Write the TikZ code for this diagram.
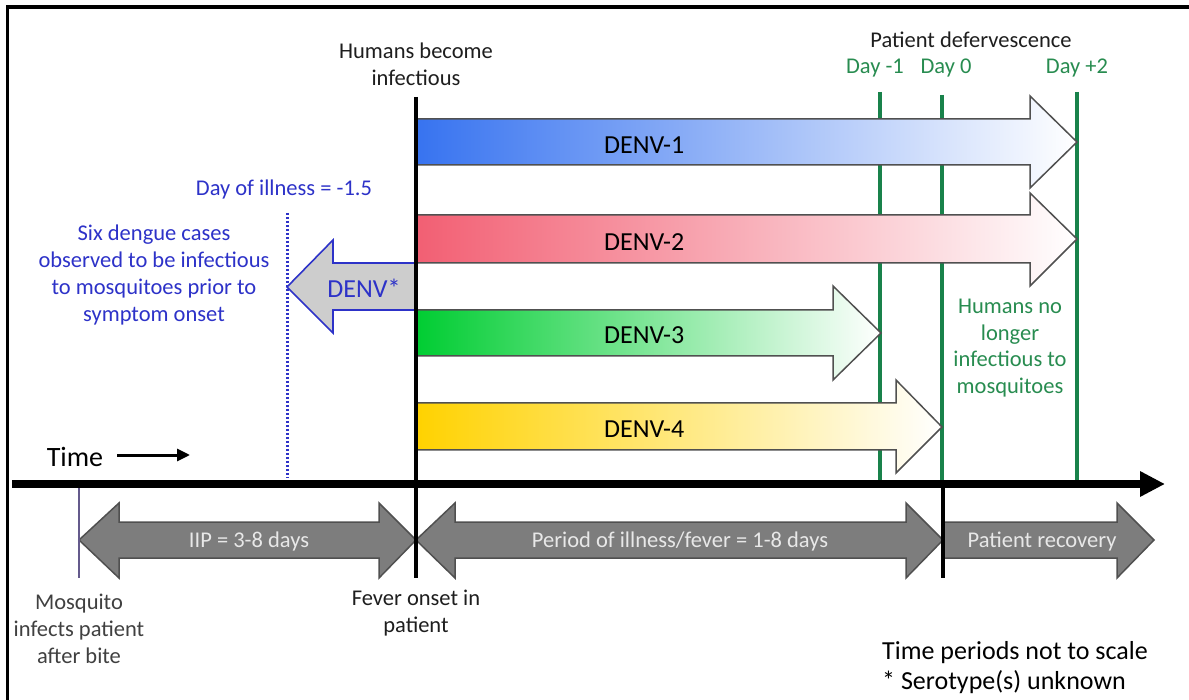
\documentclass[tikz,border=0pt]{standalone}
\usepackage{fontspec}
\setmainfont{Carlito}
\usetikzlibrary{arrows.meta}
\definecolor{d1col}{RGB}{55,115,240}
\definecolor{d2col}{RGB}{242,95,115}
\definecolor{d3col}{RGB}{0,205,50}
\definecolor{d4col}{RGB}{255,210,0}
\definecolor{lgreen}{RGB}{25,130,75}
\definecolor{tgreen}{RGB}{40,140,80}
\definecolor{tblue}{RGB}{45,50,200}
\definecolor{arrgray}{RGB}{125,125,125}
\definecolor{arredge}{RGB}{80,80,80}
\definecolor{starfill}{RGB}{205,205,205}
\definecolor{mosq}{RGB}{100,90,140}
\definecolor{ltext}{RGB}{232,232,232}
\definecolor{dtext}{RGB}{30,30,30}
\begin{document}
\begin{tikzpicture}[x=1pt,y=-1pt,
  txt/.style={font=\fontsize{22.5}{27}\selectfont, inner sep=0pt, text=dtext, align=center},
  denvlbl/.style={font=\fontsize{26}{30}\selectfont, inner sep=0pt, text=black, anchor=west},
  graylbl/.style={font=\fontsize{22.5}{27}\selectfont, inner sep=0pt, text=ltext},
  denvarrow/.style={draw=arredge, line width=1.5pt, right color=white},
  grayarrow/.style={fill=arrgray, draw=arredge, line width=1.5pt},
  gline/.style={draw=lgreen, line width=3.2pt},
  bline/.style={draw=black, line width=3.2pt}]
\useasboundingbox (0,0) rectangle (1189,700);
% frame
\draw[line width=3.2pt] (7.5,700) -- (7.5,7) -- (1189,7);

% green day lines
\coordinate (dm1top) at (880,92);  \coordinate (dm1bot) at (880,482);
\coordinate (d0top) at (942,95);   \coordinate (d0bot) at (942,482);
\coordinate (dp2top) at (1077,92); \coordinate (dp2bot) at (1077,480);
\draw[gline] (dm1top) -- (dm1bot);
\draw[gline] (d0top) -- (d0bot);
\draw[gline] (dp2top) -- (dp2bot);

% blue dotted line
\coordinate (dotTop) at (287,213); \coordinate (dotBot) at (287,478);
\draw[tblue, line width=3pt, dash pattern=on 2pt off 2pt] (dotTop) -- (dotBot);

% DENV arrows
\shadedraw[denvarrow, left color=d1col] (416,119) -- (1030,119) -- (1030,96) -- (1077,142) -- (1030,188) -- (1030,165) -- (416,165) -- cycle;
\shadedraw[denvarrow, left color=d2col] (416,215) -- (1030,215) -- (1030,193) -- (1077,239) -- (1030,286) -- (1030,263) -- (416,263) -- cycle;
\shadedraw[denvarrow, left color=d3col] (416,310) -- (833,310) -- (833,286) -- (881,333) -- (833,380) -- (833,356) -- (416,356) -- cycle;
\shadedraw[denvarrow, left color=d4col] (416,403) -- (896,403) -- (896,380) -- (942,427) -- (896,473) -- (896,450) -- (416,450) -- cycle;
\node[denvlbl] (denv1) at (604,145) {DENV-1};
\node[denvlbl] (denv2) at (604,242) {DENV-2};
\node[denvlbl] (denv3) at (604,335) {DENV-3};
\node[denvlbl] (denv4) at (604,429) {DENV-4};

% DENV* arrow
\filldraw[fill=starfill, draw=tblue, line width=1.6pt] (416,263) -- (333,263) -- (333,240) -- (287,287) -- (333,333) -- (333,310) -- (416,310) -- cycle;
\node[font=\fontsize{26}{30}\selectfont, inner sep=0pt, text=tblue] (denvstar) at (364,288) {DENV*};

% gray period arrows
\filldraw[grayarrow] (79,540) -- (119,503) -- (119,522) -- (379,522) -- (379,503) -- (416,540) -- (379,578) -- (379,558) -- (119,558) -- (119,578) -- cycle;
\filldraw[grayarrow] (416,540) -- (455,503) -- (455,522) -- (906,522) -- (906,503) -- (943,540) -- (906,578) -- (906,558) -- (455,558) -- (455,578) -- cycle;
\filldraw[grayarrow] (944,522) -- (1117,522) -- (1117,503) -- (1154,540) -- (1117,578) -- (1117,558) -- (944,558) -- cycle;
\node[graylbl] (iip) at (249,542) {IIP = 3-8 days};
\node[graylbl] (period) at (680,542) {Period of illness/fever = 1-8 days};
\node[graylbl] (recov) at (1042,542) {Patient recovery};

% vertical black / purple lines
\coordinate (onsetTop) at (416,97); \coordinate (onsetBot) at (416,578);
\draw[bline] (onsetTop) -- (onsetBot);
\coordinate (defTop) at (943,484); \coordinate (defBot) at (943,578);
\draw[bline] (defTop) -- (defBot);
\coordinate (mosTop) at (79,488); \coordinate (mosBot) at (79,578);
\draw[mosq, line width=2pt] (mosTop) -- (mosBot);

% timeline
\coordinate (tlStart) at (12,484); \coordinate (tlEnd) at (1165,484);
\draw[line width=7.5pt, -{Triangle[length=25pt,width=24pt]}] (tlStart) -- (tlEnd);

% Time label
\node[font=\fontsize{28}{32}\selectfont, inner sep=0pt, text=black] (timelbl) at (75,457) {Time};
\coordinate (timeEnd) at (190,455);
\draw[line width=3pt, -{Triangle[length=13pt,width=12pt]}] (timelbl.east) ++(14,-2) -- (timeEnd);

% top texts
\node[txt] (humans) at (416,64) {Humans become\\infectious};
\node[txt] (deferv) at (971,40) {Patient defervescence};
\node[txt, text=tgreen] (daym1) at (875,68) {Day -1};
\node[txt, text=tgreen] (day0) at (946,68) {Day 0};
\node[txt, text=tgreen] (dayp2) at (1077,68) {Day +2};

% blue texts
\node[txt, text=tblue] (dayill) at (284,190) {Day of illness = -1.5};
\node[txt, text=tblue, font=\fontsize{22.5}{26.7}\selectfont] (sixcases) at (154,275) {Six dengue cases\\observed to be infectious\\to mosquitoes prior to\\symptom onset};

% green text
\node[txt, text=tgreen, font=\fontsize{22.5}{26.7}\selectfont] (nolonger) at (1010,348) {Humans no\\longer\\infectious to\\mosquitoes};

% bottom texts
\node[txt, text=dtext!85!white] (mosquito) at (79,629) {Mosquito\\infects patient\\after bite};
\node[txt] (fever) at (416,613) {Fever onset in\\patient};
\node[font=\fontsize{26}{30}\selectfont, inner sep=0pt, text=black, align=left, anchor=west] (note) at (882,668) {Time periods not to scale\\* Serotype(s) unknown};
\end{tikzpicture}
\end{document}
